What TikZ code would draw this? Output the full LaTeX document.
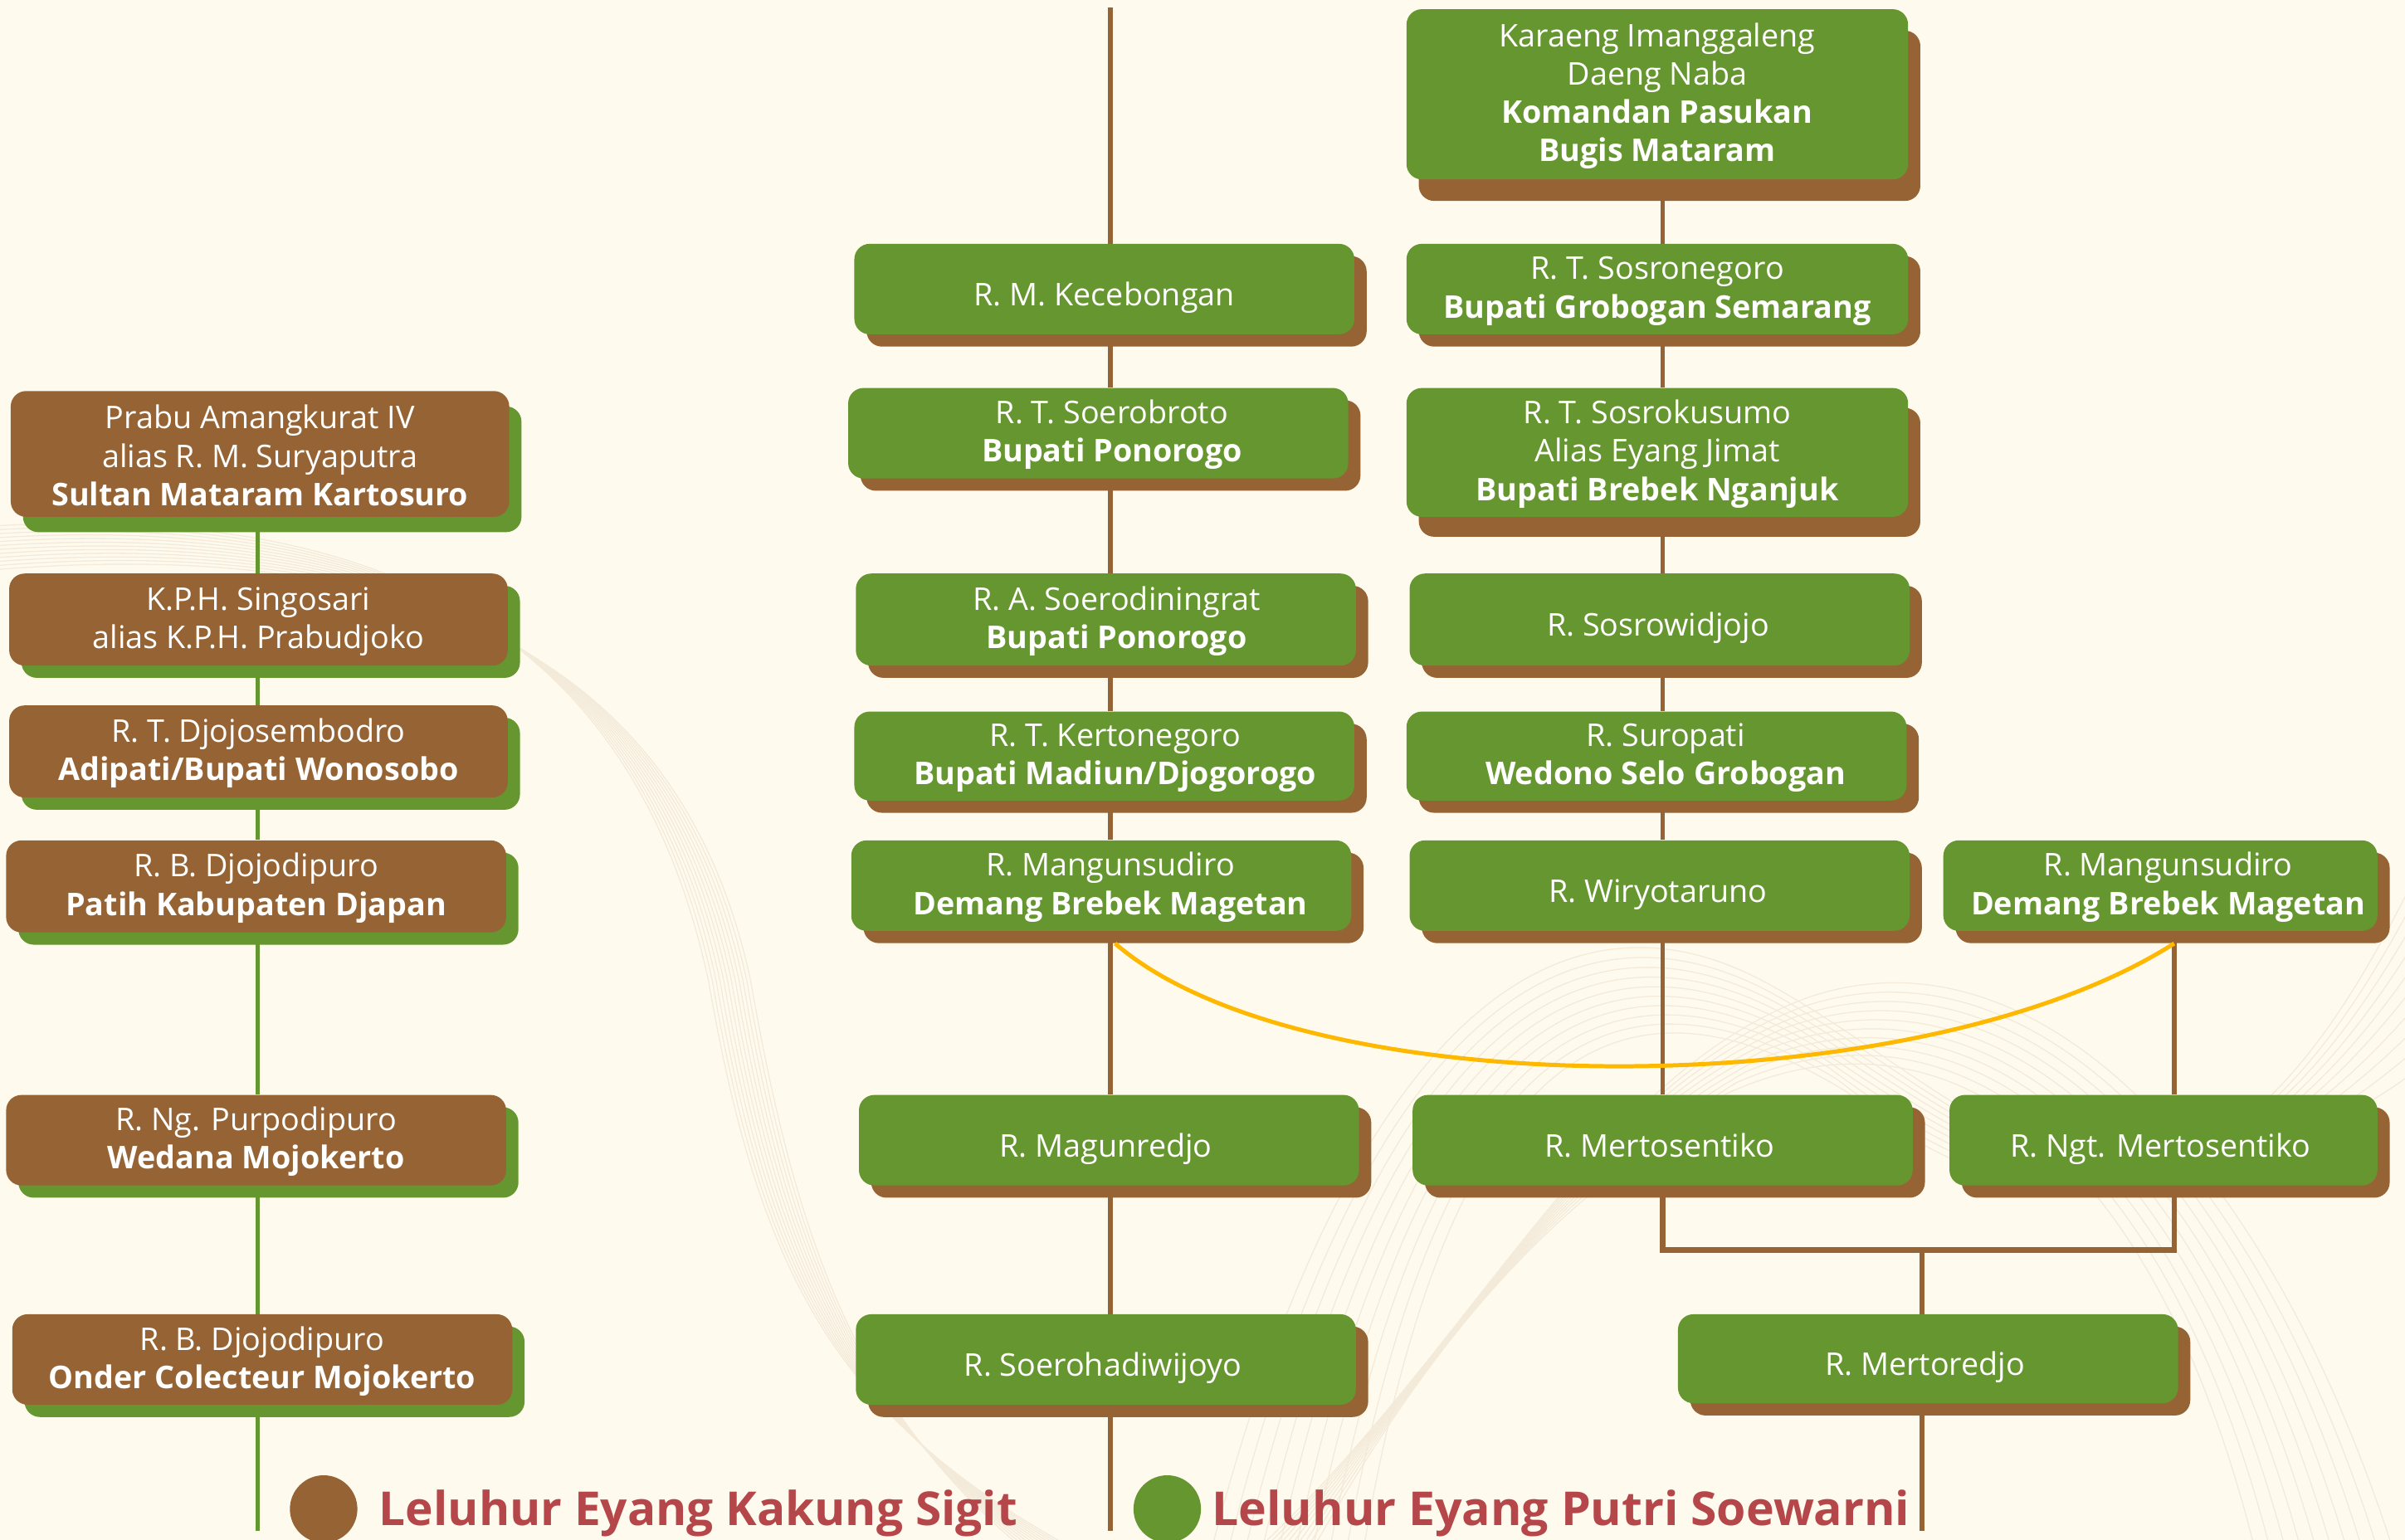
\documentclass[tikz,border=0pt]{standalone}
\usepackage{fontspec}
\setmainfont{Open Sans}
\usetikzlibrary{shadows,backgrounds,calc}
\definecolor{bgc}{HTML}{FEFBEE}
\definecolor{grn}{HTML}{66962F}
\definecolor{brn}{HTML}{966434}
\definecolor{ylw}{HTML}{FFB800}
\definecolor{lgd}{HTML}{B5474B}
\definecolor{faintc}{HTML}{F3EADA}
\tikzset{
  box/.style={rounded corners=10pt, inner sep=0pt},
  boxtext/.style={inner sep=0pt, align=center, text=white, font=\fontsize{20.4}{25}\selectfont},
  multiline/.style={},
  oneline/.style={text height=21.6pt, text depth=0pt},
  brownbox/.style={box, fill=brn, general shadow={fill=grn, shadow xshift=8pt, shadow yshift=-#1}},
  brownbox/.default=8pt,
  greenbox/.style={box, fill=grn, general shadow={fill=brn, shadow xshift=8pt, shadow yshift=-#1}},
  greenbox/.default=8pt,
  gline/.style={draw=grn, line width=3pt},
  bline/.style={draw=brn, line width=3.2pt},
  faint/.style={draw=faintc, line width=0.7pt},
  legtext/.style={anchor=base west, inner sep=0pt, text=lgd, font=\bfseries\fontsize{30.5}{31}\selectfont},
  legdot/.style={circle, inner sep=0pt, minimum size=44pt},
}
% name, box style, text style, x1, y1, x2, y2, text x-offset, text
\newcommand\famnode[9]{%
  \pgfmathsetmacro\bw{#6-#4}\pgfmathsetmacro\bh{#7-#5}%
  \node[#2, minimum width=\bw pt, minimum height=\bh pt] (#1) at ({(#4+#6)/2},{(#5+#7)/2}) {};
  \node[boxtext, #3] (#1t) at ($(#1.center)+(#8,0)$) {\rule{0pt}{17.5pt}#9};}
\begin{document}
\begin{tikzpicture}[x=1pt, y=-1pt]
\useasboundingbox (0,0) rectangle (1568,1004);
% left column
\famnode{L1}{brownbox=10pt}{multiline}{7}{255}{332}{337}{0}{Prabu Amangkurat IV\\alias R. M. Suryaputra\\\textbf{Sultan Mataram Kartosuro}}
\famnode{L2}{brownbox}{multiline}{6}{374}{331}{434}{0}{K.P.H. Singosari\\alias K.P.H. Prabudjoko}
\famnode{L3}{brownbox}{multiline}{6}{460}{331}{520}{0}{R. T. Djojosembodro\\\textbf{Adipati/Bupati Wonosobo}}
\famnode{L4}{brownbox}{multiline}{4}{548}{330}{608}{0}{R. B. Djojodipuro\\\textbf{Patih Kabupaten Djapan}}
\famnode{L5}{brownbox}{multiline}{4}{714}{330}{773}{0}{R. Ng. Purpodipuro\\\textbf{Wedana Mojokerto}}
\famnode{L6}{brownbox}{multiline}{8}{857}{334}{916}{0}{R. B. Djojodipuro\\\textbf{Onder Colecteur Mojokerto}}
% middle column
\famnode{M1}{greenbox}{oneline}{557}{159}{883}{218}{0}{R. M. Kecebongan}
\famnode{M2}{greenbox}{multiline}{553}{253}{879}{312}{9}{R. T. Soerobroto\\\textbf{Bupati Ponorogo}}
\famnode{M3}{greenbox}{multiline}{558}{374}{884}{434}{7}{R. A. Soerodiningrat\\\textbf{Bupati Ponorogo}}
\famnode{M4}{greenbox}{multiline}{557}{464}{883}{522}{7}{R. T. Kertonegoro\\\textbf{Bupati Madiun/Djogorogo}}
\famnode{M5}{greenbox}{multiline}{555}{548}{881}{607}{6}{R. Mangunsudiro\\\textbf{Demang Brebek Magetan}}
\famnode{M6}{greenbox}{oneline}{560}{714}{886}{773}{-2}{R. Magunredjo}
\famnode{M7}{greenbox}{oneline}{558}{857}{884}{916}{-2}{R. Soerohadiwijoyo}
% right columns
\famnode{R1}{greenbox=14pt}{multiline}{917}{6}{1244}{117}{0}{Karaeng Imanggaleng\\Daeng Naba\\\textbf{Komandan Pasukan}\\\textbf{Bugis Mataram}}
\famnode{R2}{greenbox}{multiline}{917}{159}{1244}{218}{0}{R. T. Sosronegoro\\\textbf{Bupati Grobogan Semarang}}
\famnode{R3}{greenbox=13pt}{multiline}{917}{253}{1244}{337}{0}{R. T. Sosrokusumo\\Alias Eyang Jimat\\\textbf{Bupati Brebek Nganjuk}}
\famnode{R4}{greenbox}{oneline}{919}{374}{1245}{434}{-1}{R. Sosrowidjojo}
\famnode{R5}{greenbox}{multiline}{917}{464}{1243}{522}{6}{R. Suropati\\\textbf{Wedono Selo Grobogan}}
\famnode{R6}{greenbox}{oneline}{919}{548}{1245}{607}{-1}{R. Wiryotaruno}
\famnode{R7}{greenbox}{oneline}{921}{714}{1247}{773}{-2}{R. Mertosentiko}
\famnode{S6}{greenbox}{multiline}{1267}{548}{1550}{607}{5}{R. Mangunsudiro\\\textbf{Demang Brebek Magetan}}
\famnode{S7}{greenbox}{oneline}{1271}{714}{1550}{773}{-2}{R. Ngt. Mertosentiko}
\famnode{R8}{greenbox}{oneline}{1094}{857}{1420}{915}{-2}{R. Mertoredjo}
% legend
\node[legdot, fill=brn] (d1) at (211,984) {};
\node[legtext] (t1) at (247,995) {\resizebox{416pt}{\height}{Leluhur Eyang Kakung Sigit}};
\node[legdot, fill=grn] (d2) at (761,984) {};
\node[legtext] (t2) at (790,995) {\resizebox{455pt}{\height}{Leluhur Eyang Putri Soewarni}};
% coordinates
\coordinate (lx) at (168,998);
\coordinate (mtop) at (724,5);
\coordinate (mbot) at (724,998);
\coordinate (rx) at (1084,815);
\coordinate (sx) at (1417.5,815);
\coordinate (bm) at (1253,815);
\coordinate (rbot) at (1253,998);
% marriage curve
\draw[ylw, line width=2.7pt] ($(M5.south)+(9,8)$) .. controls (850,722) and (1250,722) .. ($(S6.south)+(9,8)$);
\begin{scope}[on background layer]
  \fill[bgc] (0,0) rectangle (1568,1004);
  \foreach \i in {0,...,11} {
    \draw[faint] (-5,{343+\i*2.6}) .. controls (260,{328+\i*2}) and ({415+\i*2.5},420) .. ({462+\i*2.5},640)
      .. controls ({495+\i*2.5},830) and ({545+\i*2},925) .. ({700-\i*3},1010);
  }
  \foreach \i in {0,...,9} {
    \draw[faint] ({790+\i*11},1010) .. controls ({870+\i*8},700) and ({1000+\i*5},{560+\i*6}) .. ({1150+\i*6},{640+\i*8})
      .. controls (1300,{720+\i*8}) and (1420,{900-\i*10}) .. (1580,{560+\i*15});
    \draw[faint] ({1560-\i*10},1010) .. controls ({1480-\i*8},760) and ({1330-\i*6},{600+\i*5}) .. ({1180-\i*6},{650+\i*7})
      .. controls (1040,{700+\i*8}) and (960,{880-\i*6}) .. ({820+\i*4},1010);
  }
  % left column (green)
  \draw[gline] (L1.south -| lx) -- (L2.north -| lx);
  \draw[gline] (L2.south -| lx) -- (L3.north -| lx);
  \draw[gline] (L3.south -| lx) -- (L4.north -| lx);
  \draw[gline] (L4.south -| lx) -- (L5.north -| lx);
  \draw[gline] (L5.south -| lx) -- (L6.north -| lx);
  \draw[gline] (L6.south -| lx) -- (lx);
  % middle column (brown)
  \draw[bline] (mtop) -- (M1.north -| mtop);
  \draw[bline] (M1.south -| mtop) -- (M2.north -| mtop);
  \draw[bline] (M2.south -| mtop) -- (M3.north -| mtop);
  \draw[bline] (M3.south -| mtop) -- (M4.north -| mtop);
  \draw[bline] (M4.south -| mtop) -- (M5.north -| mtop);
  \draw[bline] (M5.south -| mtop) -- (M6.north -| mtop);
  \draw[bline] (M6.south -| mtop) -- (M7.north -| mtop);
  \draw[bline] (M7.south -| mtop) -- (mbot);
  % right columns
  \draw[bline] (R1.south -| rx) -- (R2.north -| rx);
  \draw[bline] (R2.south -| rx) -- (R3.north -| rx);
  \draw[bline] (R3.south -| rx) -- (R4.north -| rx);
  \draw[bline] (R4.south -| rx) -- (R5.north -| rx);
  \draw[bline] (R5.south -| rx) -- (R6.north -| rx);
  \draw[bline] (R6.south -| rx) -- (R7.north -| rx);
  \draw[bline] (S6.south -| sx) -- (S7.north -| sx);
  \draw[bline, line width=3.6pt] (R7.south -| rx) -- (rx) -- (sx) -- (S7.south -| sx);
  \draw[bline] (bm) -- (R8.north -| bm);
  \draw[bline] (R8.south -| bm) -- (rbot);
\end{scope}
\end{tikzpicture}
\end{document}
